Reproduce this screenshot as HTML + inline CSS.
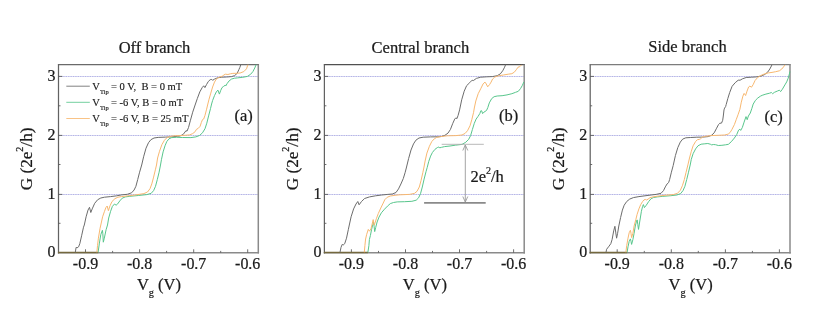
<!DOCTYPE html>
<html><head><meta charset="utf-8"><title>G vs Vg</title>
<style>
html,body{margin:0;padding:0;background:#fff;}
svg{display:block;will-change:transform;}
text{font-family:"Liberation Serif",serif;fill:#1a1a1a;stroke:#1a1a1a;stroke-width:0.22px;}
.t{font-size:16px;}
.ti{font-size:16.5px;}
.lg{font-size:10.55px;stroke-width:0.15px;}
.yl{font-size:17.2px;}
</style></head><body>
<svg width="818" height="327" viewBox="0 0 818 327" opacity="0.999">
<rect width="818" height="327" fill="#ffffff"/>
<line x1="58.5" y1="194.5" x2="258.3" y2="194.5" stroke="#cfcff3" stroke-width="0.65"/>
<line x1="58.5" y1="194.5" x2="258.3" y2="194.5" stroke="#9e9edb" stroke-width="0.65" stroke-dasharray="1.3 1.1"/>
<line x1="58.5" y1="135.5" x2="258.3" y2="135.5" stroke="#cfcff3" stroke-width="0.65"/>
<line x1="58.5" y1="135.5" x2="258.3" y2="135.5" stroke="#9e9edb" stroke-width="0.65" stroke-dasharray="1.3 1.1"/>
<line x1="58.5" y1="76.5" x2="258.3" y2="76.5" stroke="#cfcff3" stroke-width="0.65"/>
<line x1="58.5" y1="76.5" x2="258.3" y2="76.5" stroke="#9e9edb" stroke-width="0.65" stroke-dasharray="1.3 1.1"/>
<line x1="57.9" y1="64.6" x2="259.05" y2="64.6" stroke="#6a6a6a" stroke-width="1.25"/>
<line x1="258.3" y1="64.6" x2="258.3" y2="253.45" stroke="#8a8a8a" stroke-width="1.5"/>
<line x1="57.9" y1="252.7" x2="259.05" y2="252.7" stroke="#8a8a8a" stroke-width="1.5"/>
<line x1="58.5" y1="64.6" x2="58.5" y2="253.45" stroke="#626262" stroke-width="1.25"/>
<text transform="translate(55.6 257.4) scale(1 1.06)" text-anchor="end" class="t">0</text>
<line x1="58.5" y1="223.3" x2="60.5" y2="223.3" stroke="#555" stroke-width="0.85"/>
<line x1="58.5" y1="194.4" x2="62.3" y2="194.4" stroke="#555" stroke-width="0.85"/>
<text transform="translate(55.6 199.1) scale(1 1.06)" text-anchor="end" class="t">1</text>
<line x1="58.5" y1="164.5" x2="60.5" y2="164.5" stroke="#555" stroke-width="0.85"/>
<line x1="58.5" y1="135.4" x2="62.3" y2="135.4" stroke="#555" stroke-width="0.85"/>
<text transform="translate(55.6 140.1) scale(1 1.06)" text-anchor="end" class="t">2</text>
<line x1="58.5" y1="105.8" x2="60.5" y2="105.8" stroke="#555" stroke-width="0.85"/>
<line x1="58.5" y1="76.4" x2="62.3" y2="76.4" stroke="#555" stroke-width="0.85"/>
<text transform="translate(55.6 81.1) scale(1 1.06)" text-anchor="end" class="t">3</text>
<line x1="85.5" y1="252.7" x2="85.5" y2="249.29999999999998" stroke="#555" stroke-width="0.85"/>
<text transform="translate(85.5 268.8) scale(1 1.06)" text-anchor="middle" class="t">-0.9</text>
<line x1="112.6" y1="252.7" x2="112.6" y2="250.89999999999998" stroke="#555" stroke-width="0.85"/>
<line x1="139.6" y1="252.7" x2="139.6" y2="249.29999999999998" stroke="#555" stroke-width="0.85"/>
<text transform="translate(139.6 268.8) scale(1 1.06)" text-anchor="middle" class="t">-0.8</text>
<line x1="166.6" y1="252.7" x2="166.6" y2="250.89999999999998" stroke="#555" stroke-width="0.85"/>
<line x1="193.7" y1="252.7" x2="193.7" y2="249.29999999999998" stroke="#555" stroke-width="0.85"/>
<text transform="translate(193.7 268.8) scale(1 1.06)" text-anchor="middle" class="t">-0.7</text>
<line x1="220.7" y1="252.7" x2="220.7" y2="250.89999999999998" stroke="#555" stroke-width="0.85"/>
<line x1="247.7" y1="252.7" x2="247.7" y2="249.29999999999998" stroke="#555" stroke-width="0.85"/>
<text transform="translate(247.7 268.8) scale(1 1.06)" text-anchor="middle" class="t">-0.6</text>
<line x1="58.0" y1="252.5" x2="98.3" y2="252.5" stroke="#74683e" stroke-width="1.3"/>
<path d="M75.3 252.3 L76.1 247.4 L77.1 247.8 L78.6 246.8 L79.8 243.7 L81.6 235.8 L83.5 227.2 L84.3 225.0 L86.1 216.8 L88.0 210.1 L89.5 207.3 L90.8 212.5 L92.2 208.9 L94.7 203.3 L97.7 199.7 L100.8 198.0 L104.5 197.2 L110.6 196.6 L116.7 195.8 L121.6 194.9 L127.3 194.3 L131.6 192.8 L134.1 190.0 L135.9 186.3 L137.7 179.6 L139.6 172.2 L141.7 165.0 L143.6 156.8 L146.0 148.2 L148.5 142.7 L150.9 139.7 L154.0 138.0 L158.2 137.4 L165.6 137.1 L171.7 136.9 L177.8 136.2 L179.9 136.0 L183.0 134.6 L185.0 132.0 L186.0 130.6 L187.0 131.2 L188.5 127.5 L190.3 120.8 L192.7 112.2 L195.1 105.0 L197.3 98.6 L199.8 91.9 L202.2 87.6 L203.7 85.8 L204.9 87.6 L206.5 84.6 L208.3 81.5 L210.2 79.7 L211.8 79.4 L212.6 80.3 L214.5 79.1 L217.5 77.8 L221.8 77.2 L226.7 77.0 L231.6 76.6 L234.6 75.6 L237.1 73.4 L238.9 69.6 L239.9 67.3 L240.8 64.7" fill="none" stroke="#6c6c6c" stroke-width="1" stroke-linejoin="round"/>
<path d="M98.1 252.3 L99.4 243.1 L100.8 234.6 L102.4 230.3 L102.8 233.3 L103.3 242.2 L104.3 238.2 L106.1 229.7 L107.5 225.0 L108.7 218.0 L110.6 211.3 L112.4 206.4 L114.5 204.0 L116.1 205.2 L117.3 204.3 L119.8 200.9 L122.2 198.2 L125.3 196.9 L129.8 196.3 L138.3 195.5 L146.9 194.6 L151.2 193.3 L153.6 190.6 L155.5 186.3 L157.3 179.6 L159.1 172.2 L160.5 165.0 L161.5 159.3 L163.1 151.9 L165.0 145.8 L166.8 141.5 L169.0 138.8 L171.7 137.6 L176.6 137.3 L182.3 137.5 L190.9 137.6 L195.8 136.9 L199.5 135.5 L202.5 132.8 L205.0 128.7 L206.8 123.2 L208.6 115.9 L210.5 108.6 L211.6 104.0 L212.6 100.5 L214.5 95.6 L216.3 91.9 L217.9 90.1 L219.4 94.1 L220.6 90.7 L222.0 87.6 L223.6 86.4 L225.2 85.2 L225.7 86.0 L227.3 83.3 L229.1 80.9 L231.6 79.0 L234.6 78.2 L237.3 77.9 L242.8 77.3 L247.4 76.4 L250.6 74.3 L252.9 71.6 L254.8 67.9 L256.1 64.7" fill="none" stroke="#58c68c" stroke-width="1" stroke-linejoin="round"/>
<path d="M96.9 252.3 L97.5 245.6 L98.4 238.2 L100.0 228.5 L100.8 225.0 L102.6 216.8 L104.5 211.3 L105.9 207.6 L107.2 206.0 L108.4 210.7 L110.0 205.8 L112.0 201.5 L114.9 198.7 L117.9 197.2 L121.6 196.6 L127.3 195.9 L135.9 194.9 L143.9 193.6 L147.5 192.0 L150.0 188.7 L151.8 183.9 L153.6 177.1 L155.5 169.2 L156.5 165.0 L157.6 158.0 L159.5 151.3 L161.9 144.6 L164.4 140.3 L166.8 137.8 L169.9 136.4 L174.1 135.8 L182.3 135.5 L189.7 134.9 L192.7 133.6 L195.2 131.6 L196.4 129.4 L198.2 128.4 L200.1 126.3 L201.3 122.6 L202.5 119.6 L203.7 119.0 L205.0 115.3 L206.6 109.2 L207.6 105.0 L209.0 99.3 L210.8 93.1 L212.6 87.0 L214.5 82.1 L216.3 79.1 L218.1 77.8 L220.6 76.6 L222.4 76.3 L223.6 75.0 L225.5 74.2 L227.9 74.5 L230.4 73.8 L232.8 73.4 L235.9 73.3 L240.1 73.0 L243.8 71.6 L246.5 68.8 L247.9 64.7" fill="none" stroke="#f8b870" stroke-width="1" stroke-linejoin="round"/>
<text x="154.5" y="53.2" text-anchor="middle" class="ti">Off branch</text>
<text transform="translate(136.9 289.9) scale(1 1.05)" class="ti">V<tspan font-size="10.3" dy="6.2">g</tspan><tspan dy="-6.2"> (V)</tspan></text>
<text transform="translate(32.2 190.3) rotate(-90)" class="yl">G (2e<tspan font-size="10" dy="-9.6">2</tspan><tspan dy="9.6">/h)</tspan></text>
<text x="243.7" y="121.3" text-anchor="middle" class="ti">(a)</text>
<line x1="324.4" y1="194.5" x2="524.2" y2="194.5" stroke="#cfcff3" stroke-width="0.65"/>
<line x1="324.4" y1="194.5" x2="524.2" y2="194.5" stroke="#9e9edb" stroke-width="0.65" stroke-dasharray="1.3 1.1"/>
<line x1="324.4" y1="135.5" x2="524.2" y2="135.5" stroke="#cfcff3" stroke-width="0.65"/>
<line x1="324.4" y1="135.5" x2="524.2" y2="135.5" stroke="#9e9edb" stroke-width="0.65" stroke-dasharray="1.3 1.1"/>
<line x1="324.4" y1="76.5" x2="524.2" y2="76.5" stroke="#cfcff3" stroke-width="0.65"/>
<line x1="324.4" y1="76.5" x2="524.2" y2="76.5" stroke="#9e9edb" stroke-width="0.65" stroke-dasharray="1.3 1.1"/>
<line x1="323.79999999999995" y1="64.6" x2="524.95" y2="64.6" stroke="#505050" stroke-width="1.25"/>
<line x1="524.2" y1="64.6" x2="524.2" y2="253.45" stroke="#8a8a8a" stroke-width="1.5"/>
<line x1="323.79999999999995" y1="252.7" x2="524.95" y2="252.7" stroke="#8a8a8a" stroke-width="1.5"/>
<line x1="324.4" y1="64.6" x2="324.4" y2="253.45" stroke="#626262" stroke-width="1.25"/>
<text transform="translate(321.5 257.4) scale(1 1.06)" text-anchor="end" class="t">0</text>
<line x1="324.4" y1="223.3" x2="326.4" y2="223.3" stroke="#555" stroke-width="0.85"/>
<line x1="324.4" y1="194.4" x2="328.2" y2="194.4" stroke="#555" stroke-width="0.85"/>
<text transform="translate(321.5 199.1) scale(1 1.06)" text-anchor="end" class="t">1</text>
<line x1="324.4" y1="164.5" x2="326.4" y2="164.5" stroke="#555" stroke-width="0.85"/>
<line x1="324.4" y1="135.4" x2="328.2" y2="135.4" stroke="#555" stroke-width="0.85"/>
<text transform="translate(321.5 140.1) scale(1 1.06)" text-anchor="end" class="t">2</text>
<line x1="324.4" y1="105.8" x2="326.4" y2="105.8" stroke="#555" stroke-width="0.85"/>
<line x1="324.4" y1="76.4" x2="328.2" y2="76.4" stroke="#555" stroke-width="0.85"/>
<text transform="translate(321.5 81.1) scale(1 1.06)" text-anchor="end" class="t">3</text>
<line x1="351.4" y1="252.7" x2="351.4" y2="249.29999999999998" stroke="#555" stroke-width="0.85"/>
<text transform="translate(351.4 268.8) scale(1 1.06)" text-anchor="middle" class="t">-0.9</text>
<line x1="378.5" y1="252.7" x2="378.5" y2="250.89999999999998" stroke="#555" stroke-width="0.85"/>
<line x1="405.5" y1="252.7" x2="405.5" y2="249.29999999999998" stroke="#555" stroke-width="0.85"/>
<text transform="translate(405.5 268.8) scale(1 1.06)" text-anchor="middle" class="t">-0.8</text>
<line x1="432.5" y1="252.7" x2="432.5" y2="250.89999999999998" stroke="#555" stroke-width="0.85"/>
<line x1="459.5" y1="252.7" x2="459.5" y2="249.29999999999998" stroke="#555" stroke-width="0.85"/>
<text transform="translate(459.5 268.8) scale(1 1.06)" text-anchor="middle" class="t">-0.7</text>
<line x1="486.6" y1="252.7" x2="486.6" y2="250.89999999999998" stroke="#555" stroke-width="0.85"/>
<line x1="513.6" y1="252.7" x2="513.6" y2="249.29999999999998" stroke="#555" stroke-width="0.85"/>
<text transform="translate(513.6 268.8) scale(1 1.06)" text-anchor="middle" class="t">-0.6</text>
<line x1="323.9" y1="252.5" x2="368" y2="252.5" stroke="#74683e" stroke-width="1.3"/>
<path d="M340.0 252.3 L341.0 247.4 L342.2 244.4 L343.2 245.0 L344.7 243.7 L346.5 238.2 L348.3 229.7 L349.3 225.0 L351.1 216.8 L353.6 208.9 L356.0 204.0 L357.8 201.5 L359.1 204.8 L361.5 201.5 L364.6 198.5 L369.5 196.9 L375.6 195.8 L381.7 195.0 L387.8 194.4 L392.3 194.0 L396.0 192.5 L398.5 188.9 L400.9 184.0 L403.3 178.5 L405.2 172.3 L406.3 168.0 L408.6 158.6 L411.0 150.0 L413.5 143.9 L415.9 140.2 L419.0 138.0 L423.2 137.2 L430.6 136.9 L437.9 136.8 L441.5 136.5 L444.9 135.3 L448.0 133.1 L450.4 129.5 L452.8 123.3 L454.7 119.1 L455.9 117.8 L456.9 118.7 L458.1 115.4 L459.6 109.9 L461.7 99.8 L464.2 91.2 L466.6 85.7 L469.7 82.7 L472.1 80.2 L473.3 80.6 L476.4 78.4 L480.7 77.2 L486.8 76.8 L492.3 76.6 L497.2 75.7 L500.3 73.9 L502.7 70.8 L504.6 67.2 L505.6 64.7" fill="none" stroke="#6c6c6c" stroke-width="1" stroke-linejoin="round"/>
<path d="M367.9 252.3 L368.9 245.6 L369.4 239.5 L370.4 235.5 L371.6 229.4 L372.8 224.5 L373.5 222.0 L374.1 226.3 L374.7 231.6 L375.7 227.5 L377.1 222.0 L379.0 217.1 L381.4 212.8 L384.5 209.2 L387.5 206.1 L390.3 203.6 L393.5 202.5 L397.2 201.9 L404.6 201.7 L411.9 201.3 L416.2 200.2 L418.6 197.8 L420.5 193.7 L422.3 187.0 L424.1 179.1 L426.0 171.7 L427.2 167.5 L428.7 161.6 L430.6 156.1 L432.4 152.5 L434.9 149.4 L437.3 147.6 L438.9 147.0 L439.8 147.8 L441.6 147.3 L444.6 146.6 L450.0 146.0 L455.3 145.2 L462.0 144.4 L465.7 142.3 L468.7 139.3 L470.6 135.6 L472.4 129.5 L474.3 123.3 L476.1 119.1 L477.9 116.6 L479.8 113.6 L481.0 110.5 L481.8 111.1 L482.6 113.6 L484.0 112.1 L486.5 110.5 L487.8 107.6 L489.3 102.9 L491.7 98.6 L494.1 96.7 L497.2 96.0 L502.1 95.7 L507.0 94.9 L511.9 93.7 L515.6 92.3 L518.3 91.3 L520.5 88.6 L522.3 85.5 L523.9 81.9" fill="none" stroke="#58c68c" stroke-width="1" stroke-linejoin="round"/>
<path d="M364.3 252.3 L364.9 245.6 L365.6 239.0 L366.7 234.3 L368.3 229.4 L369.5 231.2 L371.0 228.7 L372.2 223.9 L373.2 219.6 L374.1 225.1 L374.9 223.2 L376.5 218.3 L378.3 213.5 L380.8 208.0 L383.2 203.1 L384.8 199.7 L387.2 197.3 L390.3 196.0 L395.0 195.3 L399.7 194.8 L409.5 194.4 L414.4 193.4 L417.0 191.3 L419.3 187.0 L421.1 180.3 L422.9 172.3 L424.0 167.0 L425.1 161.0 L426.9 153.1 L429.4 146.3 L431.8 141.5 L434.3 138.8 L436.7 137.4 L440.4 136.6 L447.3 135.8 L455.9 135.6 L462.0 135.0 L465.1 133.4 L467.5 130.7 L470.0 125.8 L471.8 119.7 L473.6 112.3 L474.3 108.0 L475.8 101.0 L478.2 93.7 L480.7 88.8 L483.1 83.9 L485.0 82.1 L486.2 83.9 L487.7 86.8 L489.6 84.5 L491.1 82.1 L492.6 79.0 L494.8 77.0 L498.5 75.8 L503.3 75.0 L508.2 74.2 L511.9 73.7 L514.4 72.1 L516.6 69.3 L518.0 67.2 L519.3 66.8 L520.2 66.3 L521.5 64.9" fill="none" stroke="#f8b870" stroke-width="1" stroke-linejoin="round"/>
<text x="420.4" y="52.7" text-anchor="middle" class="ti">Central branch</text>
<text transform="translate(402.8 289.9) scale(1 1.05)" class="ti">V<tspan font-size="10.3" dy="6.2">g</tspan><tspan dy="-6.2"> (V)</tspan></text>
<text transform="translate(298.09999999999997 190.3) rotate(-90)" class="yl">G (2e<tspan font-size="10" dy="-9.6">2</tspan><tspan dy="9.6">/h)</tspan></text>
<text x="508.7" y="121.3" text-anchor="middle" class="ti">(b)</text>
<line x1="590.2" y1="194.5" x2="790.0" y2="194.5" stroke="#cfcff3" stroke-width="0.65"/>
<line x1="590.2" y1="194.5" x2="790.0" y2="194.5" stroke="#9e9edb" stroke-width="0.65" stroke-dasharray="1.3 1.1"/>
<line x1="590.2" y1="135.5" x2="790.0" y2="135.5" stroke="#cfcff3" stroke-width="0.65"/>
<line x1="590.2" y1="135.5" x2="790.0" y2="135.5" stroke="#9e9edb" stroke-width="0.65" stroke-dasharray="1.3 1.1"/>
<line x1="590.2" y1="76.5" x2="790.0" y2="76.5" stroke="#cfcff3" stroke-width="0.65"/>
<line x1="590.2" y1="76.5" x2="790.0" y2="76.5" stroke="#9e9edb" stroke-width="0.65" stroke-dasharray="1.3 1.1"/>
<line x1="589.6" y1="64.6" x2="790.75" y2="64.6" stroke="#7c7c7c" stroke-width="1.25"/>
<line x1="790.0" y1="64.6" x2="790.0" y2="253.45" stroke="#8a8a8a" stroke-width="1.5"/>
<line x1="589.6" y1="252.7" x2="790.75" y2="252.7" stroke="#8a8a8a" stroke-width="1.5"/>
<line x1="590.2" y1="64.6" x2="590.2" y2="253.45" stroke="#626262" stroke-width="1.25"/>
<text transform="translate(587.3 257.4) scale(1 1.06)" text-anchor="end" class="t">0</text>
<line x1="590.2" y1="223.3" x2="592.2" y2="223.3" stroke="#555" stroke-width="0.85"/>
<line x1="590.2" y1="194.4" x2="594.0" y2="194.4" stroke="#555" stroke-width="0.85"/>
<text transform="translate(587.3 199.1) scale(1 1.06)" text-anchor="end" class="t">1</text>
<line x1="590.2" y1="164.5" x2="592.2" y2="164.5" stroke="#555" stroke-width="0.85"/>
<line x1="590.2" y1="135.4" x2="594.0" y2="135.4" stroke="#555" stroke-width="0.85"/>
<text transform="translate(587.3 140.1) scale(1 1.06)" text-anchor="end" class="t">2</text>
<line x1="590.2" y1="105.8" x2="592.2" y2="105.8" stroke="#555" stroke-width="0.85"/>
<line x1="590.2" y1="76.4" x2="594.0" y2="76.4" stroke="#555" stroke-width="0.85"/>
<text transform="translate(587.3 81.1) scale(1 1.06)" text-anchor="end" class="t">3</text>
<line x1="617.2" y1="252.7" x2="617.2" y2="249.29999999999998" stroke="#555" stroke-width="0.85"/>
<text transform="translate(617.2 268.8) scale(1 1.06)" text-anchor="middle" class="t">-0.9</text>
<line x1="644.3" y1="252.7" x2="644.3" y2="250.89999999999998" stroke="#555" stroke-width="0.85"/>
<line x1="671.3" y1="252.7" x2="671.3" y2="249.29999999999998" stroke="#555" stroke-width="0.85"/>
<text transform="translate(671.3 268.8) scale(1 1.06)" text-anchor="middle" class="t">-0.8</text>
<line x1="698.3" y1="252.7" x2="698.3" y2="250.89999999999998" stroke="#555" stroke-width="0.85"/>
<line x1="725.4" y1="252.7" x2="725.4" y2="249.29999999999998" stroke="#555" stroke-width="0.85"/>
<text transform="translate(725.4 268.8) scale(1 1.06)" text-anchor="middle" class="t">-0.7</text>
<line x1="752.4" y1="252.7" x2="752.4" y2="250.89999999999998" stroke="#555" stroke-width="0.85"/>
<line x1="779.4" y1="252.7" x2="779.4" y2="249.29999999999998" stroke="#555" stroke-width="0.85"/>
<text transform="translate(779.4 268.8) scale(1 1.06)" text-anchor="middle" class="t">-0.6</text>
<line x1="589.7" y1="252.5" x2="627.2" y2="252.5" stroke="#74683e" stroke-width="1.3"/>
<path d="M606.0 252.3 L606.6 249.3 L609.0 246.2 L610.8 243.7 L612.1 239.5 L613.7 230.9 L614.9 226.3 L615.7 232.1 L616.6 238.2 L617.6 233.3 L618.8 226.0 L620.6 217.5 L622.4 210.1 L624.2 205.2 L626.7 201.5 L629.7 199.1 L633.4 197.6 L638.9 196.6 L645.0 195.8 L651.1 195.0 L656.1 194.4 L661.0 193.3 L663.5 190.6 L665.3 186.9 L667.1 183.9 L668.6 182.6 L669.6 179.6 L671.4 172.2 L673.2 165.5 L675.4 155.6 L677.8 147.6 L680.3 142.1 L682.7 139.1 L685.8 137.8 L690.7 137.5 L696.8 137.2 L702.9 137.1 L708.2 136.6 L711.7 135.2 L714.2 132.8 L716.6 128.2 L718.5 124.6 L719.7 123.3 L721.5 123.1 L722.7 120.3 L723.3 116.0 L724.0 109.9 L724.6 108.1 L725.6 106.6 L726.2 104.5 L727.8 98.6 L729.7 92.5 L732.1 86.3 L735.2 82.7 L738.2 80.2 L740.1 80.2 L742.5 78.8 L746.2 77.5 L751.7 77.2 L756.3 76.9 L761.0 76.1 L764.7 74.5 L767.7 72.1 L769.8 69.0 L771.4 66.0 L772.0 64.7" fill="none" stroke="#6c6c6c" stroke-width="1" stroke-linejoin="round"/>
<path d="M627.1 252.3 L628.0 246.8 L629.2 241.3 L630.4 238.9 L631.0 241.3 L631.6 244.4 L632.9 239.5 L634.1 233.3 L635.3 226.0 L636.5 221.1 L637.2 219.9 L637.8 224.5 L638.5 229.4 L639.5 223.0 L641.4 211.3 L642.6 206.4 L643.4 204.6 L644.4 207.6 L646.3 205.2 L648.7 201.5 L651.1 198.7 L653.6 197.5 L657.3 196.9 L662.2 196.4 L670.8 195.7 L676.9 195.0 L680.6 193.6 L683.0 190.6 L684.9 186.3 L686.7 179.6 L688.5 172.2 L690.2 165.0 L691.3 159.3 L693.1 153.7 L695.6 148.9 L698.0 145.8 L701.1 144.2 L704.8 143.8 L707.8 143.5 L710.3 144.2 L711.7 144.9 L713.3 144.5 L715.5 144.7 L718.3 145.5 L721.9 145.3 L725.6 144.8 L728.4 144.3 L731.3 141.7 L734.4 138.0 L736.8 134.4 L738.6 130.1 L739.9 129.2 L740.7 130.4 L742.3 127.6 L744.1 122.1 L746.0 116.6 L747.2 119.7 L748.4 116.0 L750.3 113.0 L751.9 108.3 L753.2 104.1 L755.4 100.4 L757.8 98.0 L760.4 96.2 L762.2 95.3 L765.9 94.1 L769.6 93.2 L771.4 92.5 L772.6 93.7 L774.5 92.3 L777.5 91.0 L779.4 90.2 L780.6 91.6 L782.4 89.2 L784.9 84.9 L786.7 81.9 L788.2 78.2 L789.4 73.9 L789.9 71.5" fill="none" stroke="#58c68c" stroke-width="1" stroke-linejoin="round"/>
<path d="M625.9 252.3 L626.7 245.6 L628.0 238.2 L629.2 232.7 L630.4 230.3 L631.0 233.3 L631.6 237.6 L632.9 233.3 L634.1 226.0 L635.9 219.3 L637.1 214.4 L638.9 208.9 L640.7 204.6 L642.6 201.5 L644.0 199.9 L645.3 199.4 L646.5 200.0 L648.1 199.1 L649.9 197.8 L652.4 197.0 L657.3 196.2 L665.9 195.2 L673.2 194.6 L677.5 193.3 L680.3 190.3 L682.4 185.7 L684.3 179.6 L686.1 172.2 L687.9 164.9 L689.5 158.0 L691.3 151.3 L693.1 145.8 L695.6 141.5 L697.4 139.7 L699.3 139.4 L700.5 138.8 L702.3 137.2 L705.4 136.3 L711.1 135.6 L718.5 135.3 L724.6 135.0 L728.2 134.1 L730.1 132.5 L731.9 129.5 L734.4 124.6 L736.2 119.7 L738.0 114.8 L739.9 109.3 L741.3 102.2 L742.9 96.1 L744.1 93.4 L745.6 95.5 L747.0 91.2 L748.6 87.0 L749.9 86.1 L751.5 87.2 L753.1 84.7 L755.0 80.6 L757.6 77.5 L760.6 75.6 L764.7 73.8 L768.3 72.9 L772.0 72.4 L775.7 71.7 L779.4 70.8 L781.8 69.0 L783.6 66.8 L784.9 64.9" fill="none" stroke="#f8b870" stroke-width="1" stroke-linejoin="round"/>
<text x="687.5" y="52.0" text-anchor="middle" class="ti">Side branch</text>
<text transform="translate(668.6 289.9) scale(1 1.05)" class="ti">V<tspan font-size="10.3" dy="6.2">g</tspan><tspan dy="-6.2"> (V)</tspan></text>
<text transform="translate(563.9000000000001 190.3) rotate(-90)" class="yl">G (2e<tspan font-size="10" dy="-9.6">2</tspan><tspan dy="9.6">/h)</tspan></text>
<text x="773.6" y="122.4" text-anchor="middle" class="ti">(c)</text>
<line x1="66.3" y1="86.2" x2="89.8" y2="86.2" stroke="#6c6c6c" stroke-width="0.85"/>
<text x="92.3" y="90.1" class="lg" xml:space="preserve">V<tspan font-size="6.4" dy="3.5">Tip</tspan><tspan dy="-3.5" dx="-0.3"> = 0 V,  B = 0 mT</tspan></text>
<line x1="66.3" y1="102.3" x2="89.8" y2="102.3" stroke="#58c68c" stroke-width="0.85"/>
<text x="92.3" y="106.2" class="lg" xml:space="preserve">V<tspan font-size="6.4" dy="3.5">Tip</tspan><tspan dy="-3.5" dx="-0.3"> = -6 V, B = 0 mT</tspan></text>
<line x1="66.3" y1="118.5" x2="89.8" y2="118.5" stroke="#f8b870" stroke-width="0.85"/>
<text x="92.3" y="122.4" class="lg" xml:space="preserve">V<tspan font-size="6.4" dy="3.5">Tip</tspan><tspan dy="-3.5" dx="-0.3"> = -6 V, B = 25 mT</tspan></text>
<line x1="441.7" y1="144.3" x2="483.8" y2="144.3" stroke="#b0b0b0" stroke-width="0.9"/>
<line x1="424.1" y1="202.9" x2="485.7" y2="202.9" stroke="#8a8a8a" stroke-width="1.7"/>
<line x1="465.3" y1="145" x2="465.3" y2="202" stroke="#9a9a9a" stroke-width="0.9"/>
<path d="M462.8 150.5 L465.3 145 L467.8 150.5 M462.8 196.5 L465.3 202 L467.8 196.5" fill="none" stroke="#9a9a9a" stroke-width="0.9"/>
<text x="470.4" y="182.3" class="ti">2e<tspan font-size="10" dy="-8.2">2</tspan><tspan dy="8.2">/h</tspan></text>
</svg>
</body></html>
